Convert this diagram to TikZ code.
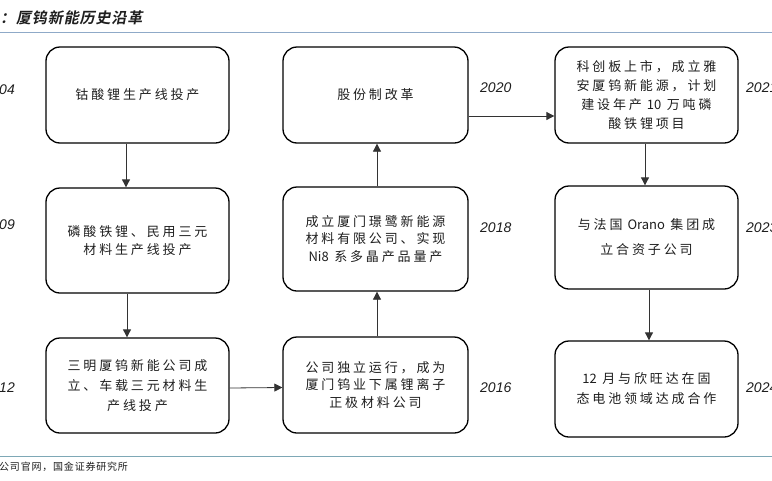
\documentclass[tikz,border=0pt]{standalone}
\usepackage{fontspec}
\setmainfont{Liberation Sans}
\newfontfamily\cjk{Noto Sans CJK SC}[LetterSpace=22]
\newfontfamily\cjklat{Noto Sans CJK SC}
\newfontfamily\cjksrc{Noto Sans CJK SC}[LetterSpace=8]
\newfontfamily\cjktitle{Noto Sans CJK SC Bold}[FakeSlant=0.2,LetterSpace=6]
\newcommand{\lat}[1]{{\cjklat #1}\hspace{5.5pt}}
\usetikzlibrary{arrows.meta}
\definecolor{topline}{HTML}{8FAAC8}
\definecolor{botline}{HTML}{7EA8B6}
\definecolor{txt}{HTML}{1E1E1E}
\begin{document}
\begin{tikzpicture}[x=1pt,y=-1pt,
  box/.style={draw=black,line width=1.3pt,rounded corners=14pt,minimum width=183pt,
    align=center,text=txt,inner sep=0pt,font=\cjk\fontsize{13}{18.5}\selectfont},
  yr/.style={font=\itshape\fontsize{14}{14}\selectfont,text=txt,inner sep=0pt},
  arr/.style={line width=0.8pt,draw=black!80,-{Triangle[length=8pt,width=8pt]}}]
\useasboundingbox (0,0) rectangle (772,480);
% title and rules
\node[anchor=west,inner sep=0pt,font=\cjktitle\fontsize{15}{15}\selectfont,text=txt] (title) at (0,18) {：厦钨新能历史沿革};
\draw[topline,line width=1pt] (0,32) -- (772,32);
\draw[botline,line width=1pt] (0,456) -- (772,456);
\node[anchor=west,inner sep=0pt,font=\cjksrc\fontsize{10}{10}\selectfont,text=txt] (src) at (-1,467) {公司官网，国金证券研究所};
% left column
\node[box,minimum height=96pt] (b1) at (137.5,95) {钴酸锂生产线投产};
\node[box,minimum height=105pt,font=\cjk\fontsize{13}{17.5}\selectfont] (b2) at (137.5,240.5) {磷酸铁锂、民用三元\\材料生产线投产};
\node[box,minimum height=95pt,font=\cjk\fontsize{13}{20}\selectfont] (b3) at (137.5,385.5) {三明厦钨新能公司成\\立、车载三元材料生\\产线投产};
% middle column
\node[box,minimum width=185pt,minimum height=96pt] (m1) at (375.5,95) {股份制改革};
\node[box,minimum width=185pt,minimum height=104pt,font=\cjk\fontsize{13}{17.5}\selectfont] (m2) at (375.5,239) {成立厦门璟鹭新能源\\材料有限公司、实现\\\lat{Ni8}系多晶产品量产};
\node[box,minimum width=185pt,minimum height=96pt,font=\cjk\fontsize{13}{17.5}\selectfont] (m3) at (375.5,385) {公司独立运行，成为\\厦门钨业下属锂离子\\正极材料公司};
% right column
\node[box,minimum height=96pt,font=\cjk\fontsize{13}{19}\selectfont] (r1) at (646.5,95) {科创板上市，成立雅\\安厦钨新能源，计划\\建设年产\hspace{5pt}\lat{10}万吨磷\\酸铁锂项目};
\node[box,minimum height=103pt,font=\cjk\fontsize{13}{25}\selectfont] (r2) at (646.5,237.5) {与法国\hspace{5pt}\lat{Orano}集团成\\立合资子公司};
\node[box,minimum height=96pt,font=\cjk\fontsize{13}{20}\selectfont] (r3) at (646.5,389) {\lat{12}月与欣旺达在固\\态电池领域达成合作};
% years
\node[yr,anchor=east] (y04) at (15,90) {2004};
\node[yr,anchor=east] (y09) at (15,225) {2009};
\node[yr,anchor=east] (y12) at (15,388) {2012};
\node[yr,anchor=west] (y20) at (480,88) {2020};
\node[yr,anchor=west] (y18) at (480,228) {2018};
\node[yr,anchor=west] (y16) at (480,388) {2016};
\node[yr,anchor=west] (y21) at (746,88) {2021};
\node[yr,anchor=west] (y23) at (746,228) {2023};
\node[yr,anchor=west] (y24) at (746,388) {2024};
% connectors
\draw[arr] ([xshift=-11.5pt]b1.south) -- ([xshift=-11.5pt]b2.north);
\draw[arr] ([xshift=-10.5pt]b2.south) -- ([xshift=-10.5pt]b3.north);
\draw[arr] ([yshift=-2.5pt]b3.east) -- ([yshift=-2.5pt]m3.west);
\draw[arr] ([xshift=1.5pt]m3.north) -- ([xshift=1.5pt]m2.south);
\draw[arr] ([xshift=1.5pt]m2.north) -- ([xshift=1.5pt]m1.south);
\draw[arr] ([yshift=-21pt]m1.east) -- ([yshift=-21pt]r1.west);
\draw[arr] ([xshift=-1.5pt]r1.south) -- ([xshift=-1.5pt]r2.north);
\draw[arr] ([xshift=2.5pt]r2.south) -- ([xshift=2.5pt]r3.north);
\end{tikzpicture}
\end{document}
